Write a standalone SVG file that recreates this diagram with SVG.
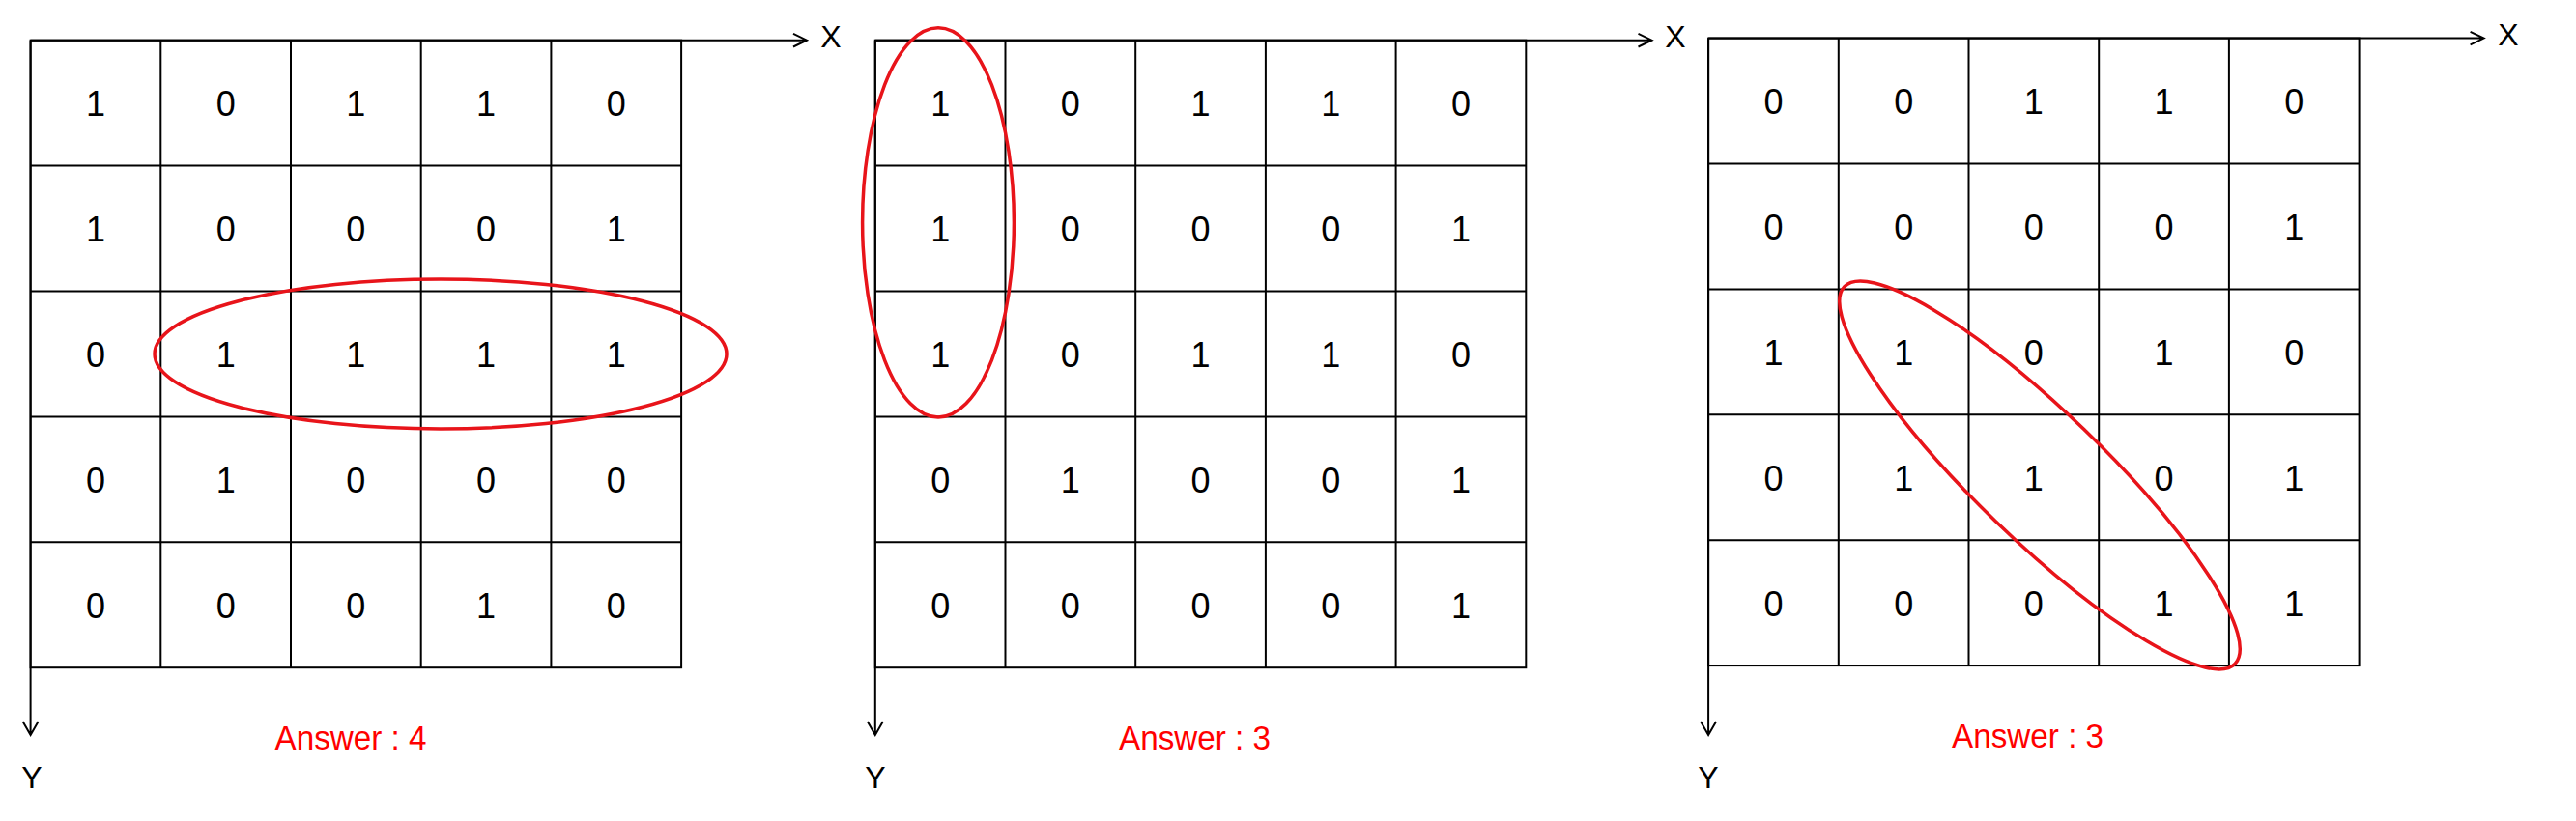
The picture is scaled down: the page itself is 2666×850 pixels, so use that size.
<svg xmlns="http://www.w3.org/2000/svg" width="2666" height="850" viewBox="0 0 2666 850">
<defs>
<style>
.cell{fill:none;stroke:#000;stroke-width:2}
.ax{fill:none;stroke:#000;stroke-width:2}
.num{font-family:"Liberation Sans",Arial,sans-serif;font-size:36px;fill:#000;text-anchor:middle}
.lbl{font-family:"Liberation Sans",Arial,sans-serif;font-size:32px;fill:#000;text-anchor:middle}
.ans{font-family:"Liberation Sans",Arial,sans-serif;font-size:35px;fill:#f00;text-anchor:middle}
.ring{fill:none;stroke:#e8141a;stroke-width:3.5}
</style>
<g id="gridlines">
<rect class="cell" x="0" y="0" width="673.5" height="649.5"/>
<path class="cell" d="M134.7 0V649.5M269.4 0V649.5M404.1 0V649.5M538.8 0V649.5M0 129.9H673.5M0 259.8H673.5M0 389.7H673.5M0 519.6H673.5"/>
</g>
</defs>
<rect width="2666" height="850" fill="#fff"/>

<g id="grid1" transform="translate(31.6,41.7)">
<use href="#gridlines"/>
<text class="num" x="67.35" y="78">1</text><text class="num" x="202.05" y="78">0</text><text class="num" x="336.75" y="78">1</text><text class="num" x="471.45" y="78">1</text><text class="num" x="606.15" y="78">0</text>
<text class="num" x="67.35" y="208">1</text><text class="num" x="202.05" y="208">0</text><text class="num" x="336.75" y="208">0</text><text class="num" x="471.45" y="208">0</text><text class="num" x="606.15" y="208">1</text>
<text class="num" x="67.35" y="338">0</text><text class="num" x="202.05" y="338">1</text><text class="num" x="336.75" y="338">1</text><text class="num" x="471.45" y="338">1</text><text class="num" x="606.15" y="338">1</text>
<text class="num" x="67.35" y="468">0</text><text class="num" x="202.05" y="468">1</text><text class="num" x="336.75" y="468">0</text><text class="num" x="471.45" y="468">0</text><text class="num" x="606.15" y="468">0</text>
<text class="num" x="67.35" y="598">0</text><text class="num" x="202.05" y="598">0</text><text class="num" x="336.75" y="598">0</text><text class="num" x="471.45" y="598">1</text><text class="num" x="606.15" y="598">0</text>
</g>
<g id="grid2" transform="translate(905.8,41.7)">
<use href="#gridlines"/>
<text class="num" x="67.35" y="78">1</text><text class="num" x="202.05" y="78">0</text><text class="num" x="336.75" y="78">1</text><text class="num" x="471.45" y="78">1</text><text class="num" x="606.15" y="78">0</text>
<text class="num" x="67.35" y="208">1</text><text class="num" x="202.05" y="208">0</text><text class="num" x="336.75" y="208">0</text><text class="num" x="471.45" y="208">0</text><text class="num" x="606.15" y="208">1</text>
<text class="num" x="67.35" y="338">1</text><text class="num" x="202.05" y="338">0</text><text class="num" x="336.75" y="338">1</text><text class="num" x="471.45" y="338">1</text><text class="num" x="606.15" y="338">0</text>
<text class="num" x="67.35" y="468">0</text><text class="num" x="202.05" y="468">1</text><text class="num" x="336.75" y="468">0</text><text class="num" x="471.45" y="468">0</text><text class="num" x="606.15" y="468">1</text>
<text class="num" x="67.35" y="598">0</text><text class="num" x="202.05" y="598">0</text><text class="num" x="336.75" y="598">0</text><text class="num" x="471.45" y="598">0</text><text class="num" x="606.15" y="598">1</text>
</g>
<g id="grid3" transform="translate(1768.1,39.6)">
<use href="#gridlines"/>
<text class="num" x="67.35" y="78">0</text><text class="num" x="202.05" y="78">0</text><text class="num" x="336.75" y="78">1</text><text class="num" x="471.45" y="78">1</text><text class="num" x="606.15" y="78">0</text>
<text class="num" x="67.35" y="208">0</text><text class="num" x="202.05" y="208">0</text><text class="num" x="336.75" y="208">0</text><text class="num" x="471.45" y="208">0</text><text class="num" x="606.15" y="208">1</text>
<text class="num" x="67.35" y="338">1</text><text class="num" x="202.05" y="338">1</text><text class="num" x="336.75" y="338">0</text><text class="num" x="471.45" y="338">1</text><text class="num" x="606.15" y="338">0</text>
<text class="num" x="67.35" y="468">0</text><text class="num" x="202.05" y="468">1</text><text class="num" x="336.75" y="468">1</text><text class="num" x="471.45" y="468">0</text><text class="num" x="606.15" y="468">1</text>
<text class="num" x="67.35" y="598">0</text><text class="num" x="202.05" y="598">0</text><text class="num" x="336.75" y="598">0</text><text class="num" x="471.45" y="598">1</text><text class="num" x="606.15" y="598">1</text>
</g>

<g id="connectors">
<path class="ax" d="M31.6 41.7H835M821 34.9L835 41.7L821 48.5M31.6 41.7V761M23.6 747L31.6 761L39.6 747"/>
<path class="ax" d="M905.8 41.7H1709.5M1695.5 34.9L1709.5 41.7L1695.5 48.5M905.8 41.7V761M897.8 747L905.8 761L913.8 747"/>
<path class="ax" d="M1768.1 39.6H2570.6M2556.6 32.8L2570.6 39.6L2556.6 46.4M1768.1 39.6V761M1760.1 747L1768.1 761L1776.1 747"/>
</g>

<g id="axis-labels">
<text class="lbl" x="860" y="49">X</text>
<text class="lbl" x="33" y="816">Y</text>
<text class="lbl" x="1734" y="49">X</text>
<text class="lbl" x="906" y="816">Y</text>
<text class="lbl" x="2596" y="47">X</text>
<text class="lbl" x="1768" y="816">Y</text>
</g>

<g id="highlights">
<ellipse class="ring" cx="456" cy="366.5" rx="296" ry="77.5"/>
<ellipse class="ring" cx="971" cy="230.4" rx="78.4" ry="201.6"/>
<ellipse class="ring" cx="0" cy="0" rx="281" ry="66" transform="translate(2111,492) rotate(44)"/>
</g>

<g id="answers">
<text class="ans" x="363" y="776" textLength="157" lengthAdjust="spacingAndGlyphs">Answer : 4</text>
<text class="ans" x="1236.5" y="776" textLength="157" lengthAdjust="spacingAndGlyphs">Answer : 3</text>
<text class="ans" x="2098.6" y="774" textLength="157" lengthAdjust="spacingAndGlyphs">Answer : 3</text>
</g>
</svg>
